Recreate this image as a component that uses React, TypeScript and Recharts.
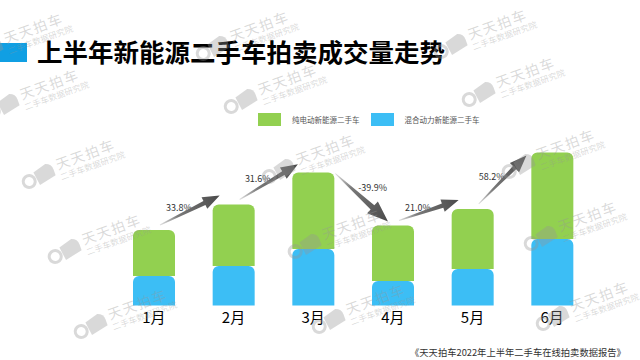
import { BarChart, Bar, XAxis, YAxis, LabelList } from "recharts";

const months = ["1月", "2月", "3月", "4月", "5月", "6月"];
const bevValues = [46, 61.5, 76.5, 55.5, 60, 86.5];
const hybridValues = [29.5, 39.5, 56.5, 24.5, 36.5, 66.5];
const growthLabels = ["33.8%", "31.6%", "-39.9%", "21.0%", "58.2%"];

const totals = months.map((_, i) => bevValues[i] + hybridValues[i]);

const data = months.map((m, i) => ({
  month: m,
  hybrid: hybridValues[i],
  bev: bevValues[i],
}));

const GREEN = "#92D050";
const BLUE = "#3CBEF5";
const FONT = '"Noto Sans CJK SC", "Noto Sans", sans-serif';

const W = 640;
const H = 360;
const MARGIN = { top: 145.5, right: 48, bottom: 24.5, left: 114 };
const STEP = (W - MARGIN.left - MARGIN.right) / months.length;

const legendItems = [
  { name: "纯电动新能源二手车", color: GREEN },
  { name: "混合动力新能源二手车", color: BLUE },
];

// watermark tiles (decoration only)
const marks = [
  [6, 44], [232, 42], [470, 40],
  [22, 100], [260, 95], [498, 88],
  [58, 170], [298, 165], [538, 160],
  [84, 245], [324, 240], [560, 232],
  [110, 320], [348, 315], [572, 312],
];

function arrowPoints(sx: number, sy: number, ex: number, ey: number, big: boolean) {
  const dx = ex - sx;
  const dy = ey - sy;
  const len = Math.sqrt(dx * dx + dy * dy);
  const ux = dx / len;
  const uy = dy / len;
  const nx = -uy;
  const ny = ux;
  const headLen = big ? 21 : 17;
  const headW = big ? 16 : 13;
  const shaftW = big ? 5.5 : 4.5;
  const tailW = 1;
  const bx = ex - ux * headLen;
  const by = ey - uy * headLen;
  const pts = [
    [sx + (nx * tailW) / 2, sy + (ny * tailW) / 2],
    [bx + (nx * shaftW) / 2, by + (ny * shaftW) / 2],
    [bx + (nx * headW) / 2, by + (ny * headW) / 2],
    [ex, ey],
    [bx - (nx * headW) / 2, by - (ny * headW) / 2],
    [bx - (nx * shaftW) / 2, by - (ny * shaftW) / 2],
    [sx - (nx * tailW) / 2, sy - (ny * tailW) / 2],
  ];
  return pts.map((p) => p.join(",")).join(" ");
}

function GrowthArrow(props: any) {
  const { x, y, width, height, index } = props;
  if (index == null || index >= months.length - 1) return null;
  const k = height / bevValues[index];
  const bottom = y + height + hybridValues[index] * k;
  const cx = x + width / 2;
  const top = y;
  const nextCx = cx + STEP;
  const nextTop = bottom - totals[index + 1] * k;

  const up = nextTop < top;
  let sx, sy, ex, ey, lx, ly;
  if (up) {
    sx = cx + 6;
    sy = top - 5;
    const tx = nextCx - 14;
    const ty = nextTop - 9;
    const d = Math.hypot(tx - sx, ty - sy);
    const l = Math.min(d, 68);
    ex = sx + ((tx - sx) / d) * l;
    ey = sy + ((ty - sy) / d) * l;
    lx = (sx + ex) / 2 - 11;
    ly = (sy + ey) / 2 - 3;
  } else {
    sx = x + width + 1;
    sy = top + 1;
    ex = nextCx - 5;
    ey = nextTop - 4;
    lx = (sx + ex) / 2 + 11;
    ly = (sy + ey) / 2 - 10;
  }
  const gid = `arrowGrad${index}`;
  return (
    <g>
      <text
        x={lx}
        y={ly}
        textAnchor="middle"
        dominantBaseline="central"
        fontSize={9}
        fill="#333"
        fontFamily={FONT}
      >
        {growthLabels[index]}
      </text>
      <defs>
        <linearGradient id={gid} gradientUnits="userSpaceOnUse" x1={sx} y1={sy} x2={ex} y2={ey}>
          <stop offset="0%" stopColor="#e2e2e2" />
          <stop offset="30%" stopColor="#7a7a7a" />
          <stop offset="100%" stopColor="#4a4a4a" />
        </linearGradient>
      </defs>
      <polygon points={arrowPoints(sx, sy, ex, ey, !up)} fill={`url(#${gid})`} />
    </g>
  );
}

function ChartLegend() {
  return (
    <div
      style={{
        position: "absolute",
        left: 258,
        top: 113,
        display: "flex",
        alignItems: "center",
        fontFamily: FONT,
      }}
    >
      {legendItems.map((it, i) => (
        <div key={i} style={{ display: "flex", alignItems: "center", marginRight: 11 }}>
          <span style={{ display: "inline-block", width: 23, height: 13, background: it.color, marginRight: 11 }} />
          <span style={{ fontSize: 7.5, color: "#555", whiteSpace: "nowrap" }}>{it.name}</span>
        </div>
      ))}
    </div>
  );
}

function Watermark({ x, y }: { x: number; y: number }) {
  const c = "rgba(150,150,150,0.36)";
  return (
    <div
      style={{
        position: "absolute",
        left: x - 40,
        top: y - 14,
        transform: "rotate(-20deg)",
        transformOrigin: "40px 14px",
        display: "flex",
        alignItems: "center",
        pointerEvents: "none",
        color: c,
        fontFamily: FONT,
      }}
    >
      <svg width={38} height={26}>
        <circle cx={9} cy={15} r={6} fill="none" stroke={c} strokeWidth={3} />
        <path d="M16 8 L30 4 Q36 6 36 12 L36 18 L18 22 Z" fill={c} />
      </svg>
      <div style={{ lineHeight: 1, marginLeft: 2 }}>
        <div style={{ fontSize: 14, letterSpacing: 1.5 }}>天天拍车</div>
        <div style={{ fontSize: 8.5, marginTop: 2 }}>二手车数据研究院</div>
      </div>
    </div>
  );
}

export default function App() {
  return (
    <div
      style={{
        position: "absolute",
        left: 0,
        top: 0,
        width: W,
        height: H,
        background: "#fff",
        overflow: "hidden",
        fontFamily: FONT,
      }}
    >
      <div style={{ position: "absolute", left: 0, top: 43, width: 27, height: 19, background: "#109FE3" }} />
      <div
        style={{
          position: "absolute",
          left: 37,
          top: 37,
          fontSize: 25.5,
          lineHeight: "28px",
          fontWeight: 700,
          color: "#000",
          whiteSpace: "nowrap",
        }}
      >
        上半年新能源二手车拍卖成交量走势
      </div>

      <ChartLegend />

      <div style={{ position: "absolute", left: 0, top: 0 }}>
        <BarChart width={W} height={H} data={data} margin={MARGIN}>
          <XAxis
            dataKey="month"
            axisLine={false}
            tickLine={false}
            tickSize={0}
            tickMargin={7}
            height={30}
            interval={0}
            tick={{ fontSize: 15, fill: "#000", fontFamily: FONT }}
          />
          <YAxis hide domain={[0, 160]} />
          <Bar
            dataKey="hybrid"
            stackId="a"
            fill={BLUE}
            barSize={42}
            radius={[6, 6, 0, 0]}
            isAnimationActive={false}
          />
          <Bar
            dataKey="bev"
            stackId="a"
            fill={GREEN}
            barSize={42}
            radius={[6, 6, 0, 0]}
            isAnimationActive={false}
          >
            <LabelList dataKey="bev" content={(p: any) => <GrowthArrow {...p} />} />
          </Bar>
        </BarChart>
      </div>

      {marks.map(([mx, my], i) => (
        <Watermark key={i} x={mx} y={my} />
      ))}

      <div
        style={{
          position: "absolute",
          left: 410,
          top: 346,
          fontSize: 9.3,
          lineHeight: "12px",
          color: "#333",
          whiteSpace: "nowrap",
        }}
      >
        《天天拍车2022年上半年二手车在线拍卖数据报告》
      </div>
    </div>
  );
}
